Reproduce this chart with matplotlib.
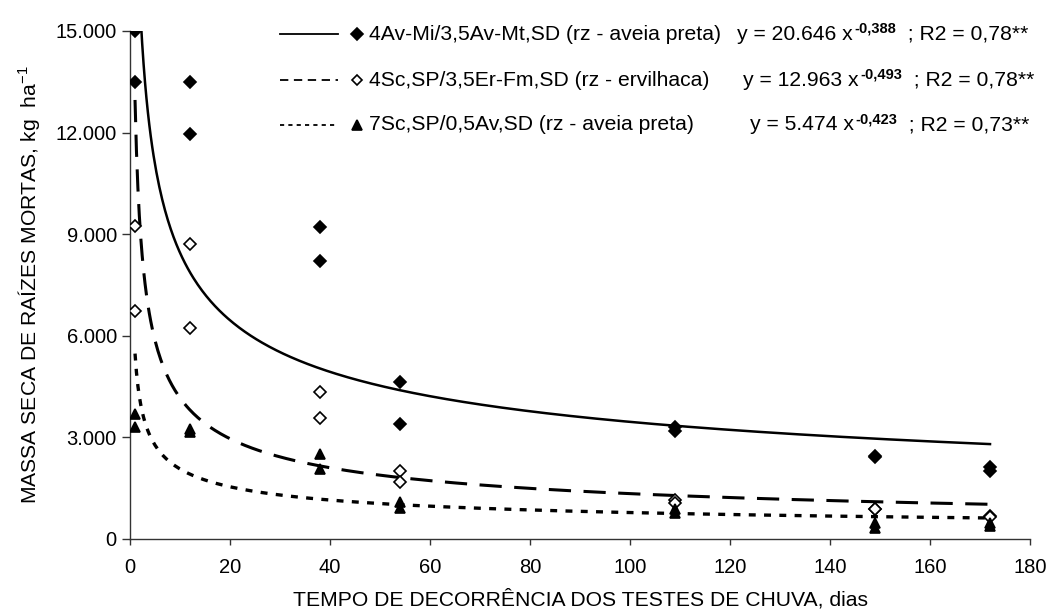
import numpy as np
import matplotlib
matplotlib.use("Agg")
import matplotlib.pyplot as plt
from matplotlib.ticker import FuncFormatter

plt.rcParams['font.family'] = ['Liberation Sans', 'DejaVu Sans']
plt.rcParams['mathtext.fontset'] = 'custom'
plt.rcParams['mathtext.rm'] = 'Liberation Sans'
plt.rcParams['mathtext.bf'] = 'Liberation Sans:bold'
plt.rcParams['lines.scale_dashes'] = False

# days after the rain tests, two replicates per date
dias = [1, 1, 12, 12, 38, 38, 54, 54, 109, 109, 149, 149, 172, 172]

# dead root dry mass, kg/ha
aveia_mi = [15000, 13500, 13500, 11950, 9200, 8200, 4630, 3390, 3300, 3200, 2450, 2430, 2120, 2020]
ervilhaca = [9240, 6740, 8700, 6240, 4330, 3580, 2010, 1670, 1150, 1050, 900, 880, 690, 650]
aveia_sc = [3680, 3320, 3250, 3150, 2510, 2060, 1100, 910, 900, 780, 470, 330, 470, 390]

nomes = ['4Av-Mi/3,5Av-Mt,SD (rz - aveia preta)',
         '4Sc,SP/3,5Er-Fm,SD (rz - ervilhaca)',
         '7Sc,SP/0,5Av,SD (rz - aveia preta)']

# power trendlines y = a * x^b
coef_a = [20646, 12963, 5474]
coef_b = [-0.388, -0.493, -0.423]
eq_a = ['20.646', '12.963', '5.474']
eq_b = ['-0,388', '-0,493', '-0,423']
r2 = ['0,78**', '0,78**', '0,73**']

marcadores = ['D', 'D', '^']
preenchido = ['black', 'white', 'black']
tamanhos = [6.5, 6.0, 7.5]
tracos = [None, (16, 9), (5, 6)]
tracos_leg = [None, (6, 4), (3, 3)]
larguras = [1.8, 2.2, 2.4]
FS = 15.2

fig = plt.figure(figsize=(10.52, 6.12), dpi=100)
ax = fig.add_axes([0.1236, 0.1193, 0.8555, 0.8301])

series = [aveia_mi, ervilhaca, aveia_sc]
xs = np.linspace(min(dias), max(dias), 600)

for i, ys in enumerate(series):
    ax.plot(dias, ys, linestyle='none', marker=marcadores[i], ms=tamanhos[i],
            mfc=preenchido[i], mec='black', mew=1.2, zorder=3)
    ln, = ax.plot(xs, coef_a[i] * xs ** coef_b[i], color='black', lw=larguras[i], zorder=2)
    if tracos[i]:
        ln.set_dashes(tracos[i])

ax.set_xlim(0, 180)
ax.set_ylim(0, 15000)
ax.set_xticks(range(0, 181, 20))
ax.set_yticks(range(0, 15001, 3000))
ax.yaxis.set_major_formatter(FuncFormatter(lambda v, p: f'{int(v):,}'.replace(',', '.')))

for s in ['top', 'right']:
    ax.spines[s].set_visible(False)
for s in ['left', 'bottom']:
    ax.spines[s].set_color('#333333')
    ax.spines[s].set_linewidth(1.0)
ax.tick_params(direction='out', width=1.0, color='#333333', labelsize=14.5)
ax.tick_params(axis='x', length=4.5, pad=9)
ax.tick_params(axis='y', length=5.5, pad=4)

ax.set_xlabel('TEMPO DE DECORRÊNCIA DOS TESTES DE CHUVA, dias', fontsize=FS)
ax.set_ylabel('MASSA SECA DE RAÍZES MORTAS, kg  ha$^{-1}$', fontsize=FS)
ax.yaxis.set_label_coords(-0.097, 0.5)
ax.xaxis.set_label_coords(0.5, -0.098)

# legend block: line sample, marker, label and trendline equation
linhas_y = [34, 80, 125]
x_eq = [737, 743, 750]
tr = fig.transFigure
for i in range(3):
    yf = 1 - linhas_y[i] / 612
    ls = fig.add_artist(plt.Line2D([280 / 1052, 338 / 1052], [yf, yf], transform=tr,
                                   color='black', lw=1.3))
    if tracos_leg[i]:
        ls.set_dashes(tracos_leg[i])
    fig.add_artist(plt.Line2D([357 / 1052], [yf], transform=tr, linestyle='none',
                              marker=marcadores[i], ms=tamanhos[i] - 0.5,
                              mfc=preenchido[i], mec='black', mew=1.2))
    fig.text(369 / 1052, yf, nomes[i], fontsize=FS, va='center', ha='left')
    t1 = fig.text(x_eq[i] / 1052, yf, f'y = {eq_a[i]} x', fontsize=FS, va='center', ha='left')
    t2 = ax.annotate(eq_b[i], xy=(1, 1), xycoords=t1, xytext=(1, 2), textcoords='offset points',
                     fontsize=10.5, fontweight='bold', va='top', ha='left')
    ax.annotate(f'  ; R2 = {r2[i]}', xy=(1, 0), xycoords=(t2, t1),
                fontsize=FS, va='bottom', ha='left')

fig.savefig('out.png', dpi=100)
